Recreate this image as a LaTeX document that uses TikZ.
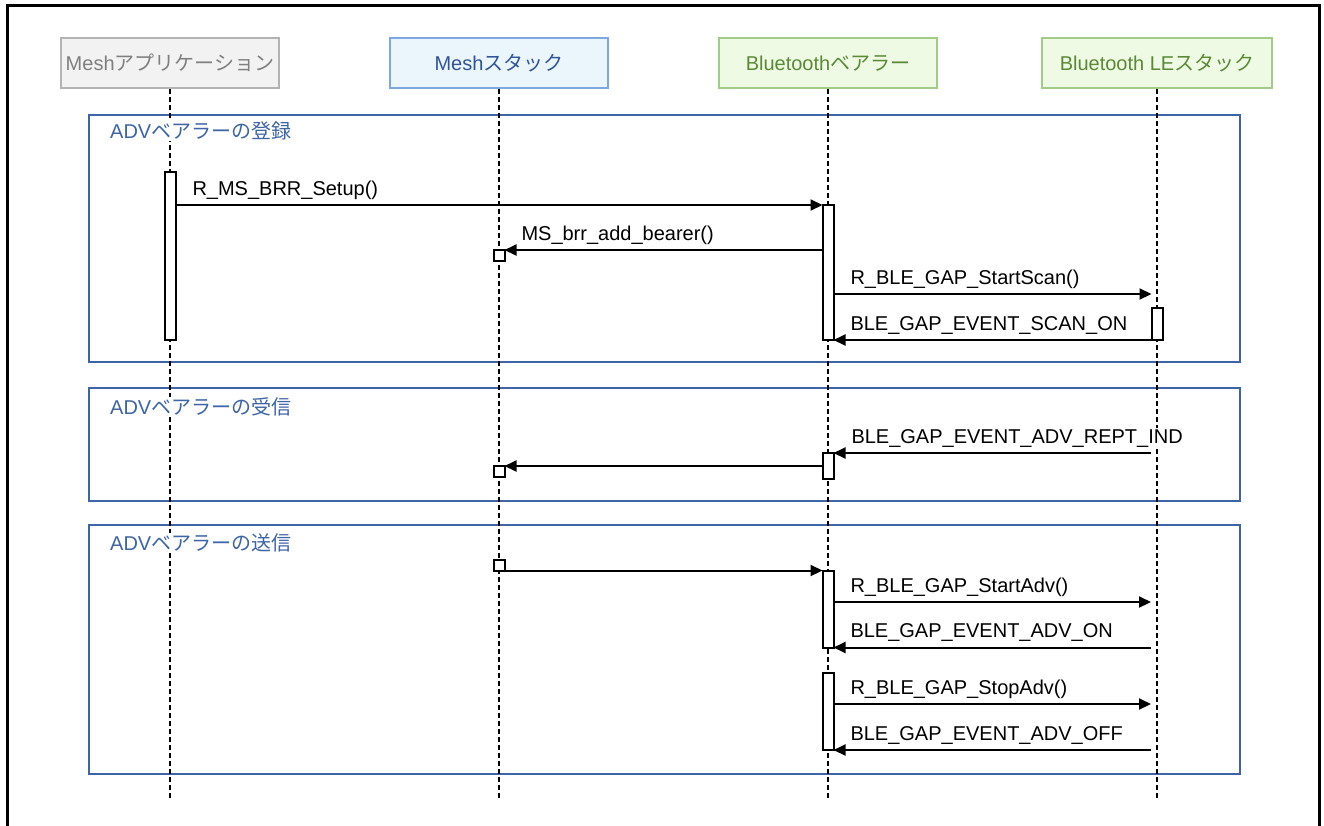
\documentclass[tikz,border=0pt]{standalone}
\usepackage{fontspec}
\setmainfont{Liberation Sans}
\newfontfamily\jpfont{Noto Sans CJK JP}
\newcommand{\jtext}[1]{{\jpfont #1}}
\usetikzlibrary{arrows.meta,positioning}
\definecolor{appline}{HTML}{B3B3B3}
\definecolor{appfill}{HTML}{F2F2F2}
\definecolor{apptext}{HTML}{7F7F7F}
\definecolor{stkline}{HTML}{7EA6E0}
\definecolor{stkfill}{HTML}{EAF5FC}
\definecolor{stktext}{HTML}{2F5597}
\definecolor{btline}{HTML}{A2CC86}
\definecolor{btfill}{HTML}{EEFAE3}
\definecolor{bttext}{HTML}{5A8A36}
\definecolor{grpblue}{HTML}{3C64A6}
\tikzset{
  head/.style={draw, line width=2pt, minimum width=218, minimum height=50, inner sep=0pt},
  apphead/.style={head, draw=appline, fill=appfill, text=apptext},
  stkhead/.style={head, draw=stkline, fill=stkfill, text=stktext},
  bthead/.style={head, draw=btline, fill=btfill, text=bttext},
  life/.style={line width=1.6pt, dash pattern=on 5pt off 3pt},
  act/.style={draw, fill=white, line width=2pt, minimum width=11, inner sep=0pt, outer sep=0pt},
  sq/.style={act, minimum height=11},
  msg/.style={line width=2pt, -{Triangle[length=12pt,width=11pt]}},
  lbl/.style={anchor=base west, inner sep=0pt, xshift=16pt, yshift=10pt},
  grp/.style={draw=grpblue, line width=2pt},
  grplbl/.style={anchor=west, text=grpblue, fill=white, inner sep=1pt}
}
\begin{document}
\begin{tikzpicture}[x=1pt, y=-1pt, font=\fontsize{20}{24}\selectfont]
  \useasboundingbox (0,0) rectangle (1324,825);
  \draw[line width=3pt] (7,830) -- (7,5) -- (1319,5) -- (1319,830);
  % lifelines
  \node[apphead] (app) at (170,63) {Mesh\jtext{アプリケーション}};
  \node[stkhead] (stack) at (499,63) {Mesh\jtext{スタック}};
  \node[bthead] (bearer) at (828,63) {Bluetooth\jtext{ベアラー}};
  \node[bthead, minimum width=230] (ble) at (1157,63) {Bluetooth LE\jtext{スタック}};
  \coordinate (bottom) at (0,798);
  \draw[grp] (89,115) rectangle (1240,362);
  \draw[grp] (89,388) rectangle (1240,501);
  \draw[grp] (89,525) rectangle (1240,774);
  \foreach \n in {app,stack,bearer,ble} \draw[life] (\n) -- (\n |- bottom);
  \node[grplbl] (g1) at (109,131) {ADV\jtext{ベアラーの登録}};
  \node[grplbl] (g2) at (109,407) {ADV\jtext{ベアラーの受信}};
  \node[grplbl] (g3) at (109,543) {ADV\jtext{ベアラーの送信}};
  % registration
  \node[act, minimum height=168] (a1) at (170,256) {};
  \node[act, minimum height=135] (b1) at (828,272.5) {};
  \node[act, minimum height=32] (e1) at (1157,324) {};
  \node[sq] (s1) at (499,255.5) {};
  \draw[msg] (a1.east |- b1.north) -- node[lbl, pos=0] {R\_MS\_BRR\_Setup()} (b1.north west);
  \draw[msg] (b1.west |- s1.north) -- node[lbl, pos=1] {MS\_brr\_add\_bearer()} (s1.north east);
  \draw[msg] (b1.east |- 0,294) -- node[lbl, pos=0] {R\_BLE\_GAP\_StartScan()} (e1.west |- 0,294);
  \draw[msg] (e1.south west) -- node[lbl, pos=1] {BLE\_GAP\_EVENT\_SCAN\_ON} (b1.south east);
  % reception
  \node[act, minimum height=26] (b2) at (828,466) {};
  \node[sq] (s2) at (499,471.5) {};
  \draw[msg, shorten <=6pt] (ble |- b2.north) -- node[lbl, pos=1, fill=white, inner sep=1pt] {BLE\_GAP\_EVENT\_ADV\_REPT\_IND} (b2.north east);
  \draw[msg] (b2.west) -- (s2.north east);
  % transmission
  \node[sq] (s3) at (499,565) {};
  \node[act, minimum height=77] (b3) at (828,609) {};
  \node[act, minimum height=77] (b4) at (828,711.5) {};
  \draw[msg] (s3.south east) -- (b3.north west);
  \draw[msg, shorten >=6pt] (b3.east |- 0,602) -- node[lbl, pos=0] {R\_BLE\_GAP\_StartAdv()} (ble |- 0,602);
  \draw[msg, shorten <=6pt] (ble |- b3.south) -- node[lbl, pos=1] {BLE\_GAP\_EVENT\_ADV\_ON} (b3.south east);
  \draw[msg, shorten >=6pt] (b4.east |- 0,704) -- node[lbl, pos=0] {R\_BLE\_GAP\_StopAdv()} (ble |- 0,704);
  \draw[msg, shorten <=6pt] (ble |- b4.south) -- node[lbl, pos=1] {BLE\_GAP\_EVENT\_ADV\_OFF} (b4.south east);
\end{tikzpicture}
\end{document}
